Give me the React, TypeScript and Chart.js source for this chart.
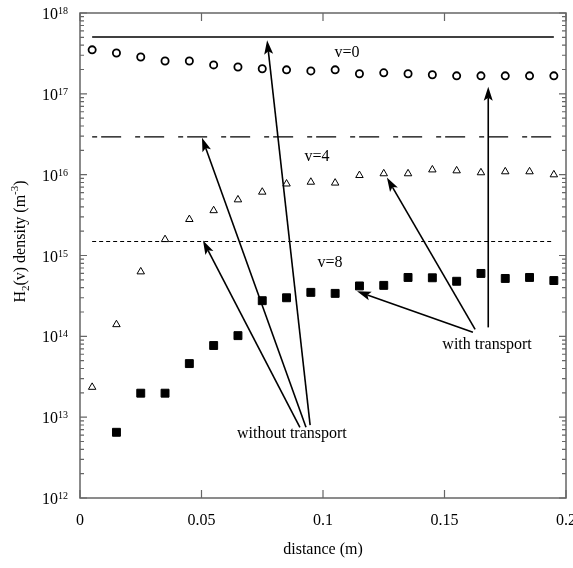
import React, { useEffect, useRef } from "react";
import { Chart, registerables } from "chart.js";

Chart.register(...registerables);

// ---- data ----
const distanceV0 = [0.005, 0.015, 0.025, 0.035, 0.045, 0.055, 0.065, 0.075, 0.085, 0.095, 0.105, 0.115, 0.125, 0.135, 0.145, 0.155, 0.165, 0.175, 0.185, 0.195];
const densityV0 = [3.5e17, 3.2e17, 2.86e17, 2.55e17, 2.55e17, 2.28e17, 2.15e17, 2.04e17, 1.98e17, 1.92e17, 1.98e17, 1.77e17, 1.82e17, 1.77e17, 1.72e17, 1.67e17, 1.67e17, 1.67e17, 1.67e17, 1.67e17];
const distanceV4 = [0.005, 0.015, 0.025, 0.035, 0.045, 0.055, 0.065, 0.075, 0.085, 0.095, 0.105, 0.115, 0.125, 0.135, 0.145, 0.155, 0.165, 0.175, 0.185, 0.195];
const densityV4 = [2.35e13, 1.4e14, 6.3e14, 1.58e15, 2.8e15, 3.6e15, 4.9e15, 6.1e15, 7.7e15, 8.1e15, 7.9e15, 9.8e15, 1.03e16, 1.03e16, 1.15e16, 1.12e16, 1.06e16, 1.09e16, 1.09e16, 1.0e16];
const distanceV8 = [0.015, 0.025, 0.035, 0.045, 0.055, 0.065, 0.075, 0.085, 0.095, 0.105, 0.115, 0.125, 0.135, 0.145, 0.155, 0.165, 0.175, 0.185, 0.195];
const densityV8 = [6.5e12, 1.98e13, 1.98e13, 4.6e13, 7.7e13, 1.02e14, 2.76e14, 3.0e14, 3.5e14, 3.4e14, 4.2e14, 4.27e14, 5.35e14, 5.3e14, 4.8e14, 6.0e14, 5.2e14, 5.35e14, 4.9e14];

// "without transport" levels (horizontal lines)
const levelX = [0.005, 0.195];
const levelV0 = 5.06e17;
const levelV4 = 2.94e16;
const levelV8 = 1.49e15;

const xTicks = [0, 0.05, 0.1, 0.15, 0.2];
const xTickLabels = ["0", "0.05", "0.1", "0.15", "0.2"];
const yDecades = [12, 13, 14, 15, 16, 17, 18];

// arrows: [fromX, fromY, toX, toY]
const arrows = [
  [0.0947, 7.96e12, 0.077, 4.6e17],
  [0.093, 7.5e12, 0.0502, 2.87e16],
  [0.0905, 7.5e12, 0.0506, 1.53e15],
  [0.168, 1.29e14, 0.168, 1.22e17],
  [0.1626, 1.22e14, 0.1263, 9.2e15],
  [0.1617, 1.12e14, 0.114, 3.6e14],
];

const noteTexts = ["v=0", "v=4", "v=8", "without transport", "with transport"];
const noteX = [0.1099, 0.0975, 0.1029, 0.0872, 0.1675];
const noteY = [3.2e17, 1.67e16, 8.2e14, 6.2e12, 7.9e13];

const FONT = "'Liberation Serif', 'Times New Roman', serif";

const decorPlugin = {
  id: "decor",
  afterDraw(chart: any) {
    const ctx = chart.ctx;
    const xs = chart.scales.x;
    const ys = chart.scales.y;
    const a = chart.chartArea;
    ctx.save();

    // frame
    ctx.strokeStyle = "#666";
    ctx.lineWidth = 1.5;
    ctx.strokeRect(a.left, a.top, a.right - a.left, a.bottom - a.top);

    // x ticks (inward, bottom and top)
    ctx.lineWidth = 1.2;
    xTicks.forEach((v) => {
      const px = xs.getPixelForValue(v);
      ctx.beginPath();
      ctx.moveTo(px, a.bottom);
      ctx.lineTo(px, a.bottom - 8);
      ctx.moveTo(px, a.top);
      ctx.lineTo(px, a.top + 8);
      ctx.stroke();
    });
    // y ticks (log, inward, left and right)
    yDecades.forEach((d, i) => {
      const py = ys.getPixelForValue(Math.pow(10, d));
      ctx.beginPath();
      ctx.moveTo(a.left, py);
      ctx.lineTo(a.left + 7, py);
      ctx.moveTo(a.right, py);
      ctx.lineTo(a.right - 7, py);
      ctx.stroke();
      if (i < yDecades.length - 1) {
        for (let k = 2; k <= 9; k++) {
          const pm = ys.getPixelForValue(k * Math.pow(10, d));
          ctx.beginPath();
          ctx.moveTo(a.left, pm);
          ctx.lineTo(a.left + 4, pm);
          ctx.moveTo(a.right, pm);
          ctx.lineTo(a.right - 4, pm);
          ctx.stroke();
        }
      }
    });

    ctx.fillStyle = "#000";
    // x tick labels
    ctx.font = `16px ${FONT}`;
    ctx.textAlign = "center";
    ctx.textBaseline = "middle";
    xTicks.forEach((v, i) => {
      ctx.fillText(xTickLabels[i], xs.getPixelForValue(v), a.bottom + 23);
    });
    // x title
    ctx.fillText("distance (m)", (a.left + a.right) / 2, a.bottom + 52);

    // y tick labels 10^n
    yDecades.forEach((d) => {
      const py = ys.getPixelForValue(Math.pow(10, d));
      const exp = String(d);
      ctx.font = `10px ${FONT}`;
      const ew = ctx.measureText(exp).width;
      const rightX = a.left - 12;
      ctx.textAlign = "left";
      ctx.textBaseline = "alphabetic";
      ctx.fillText(exp, rightX - ew, py + 1);
      ctx.font = `16px ${FONT}`;
      ctx.textAlign = "right";
      ctx.fillText("10", rightX - ew, py + 6);
    });

    // y title (rotated) H2(v) density (m-3)
    ctx.save();
    ctx.translate(25, (a.top + a.bottom) / 2 - 14);
    ctx.rotate(-Math.PI / 2);
    const parts: [string, number, number][] = [
      ["H", 16, 0],
      ["2", 11, 4],
      ["(v) density (m", 16, 0],
      ["-3", 11, -7],
      [")", 16, 0],
    ];
    let total = 0;
    parts.forEach(([t, s]) => {
      ctx.font = `${s}px ${FONT}`;
      total += ctx.measureText(t).width;
    });
    let cx = -total / 2;
    ctx.textAlign = "left";
    ctx.textBaseline = "alphabetic";
    parts.forEach(([t, s, dy]) => {
      ctx.font = `${s}px ${FONT}`;
      ctx.fillText(t, cx, dy);
      cx += ctx.measureText(t).width;
    });
    ctx.restore();

    // arrows
    ctx.strokeStyle = "#000";
    ctx.fillStyle = "#000";
    ctx.lineWidth = 1.6;
    arrows.forEach(([x0, y0, x1, y1]) => {
      const p0x = xs.getPixelForValue(x0);
      const p0y = ys.getPixelForValue(y0);
      const p1x = xs.getPixelForValue(x1);
      const p1y = ys.getPixelForValue(y1);
      const ang = Math.atan2(p1y - p0y, p1x - p0x);
      const L = 14;
      const W = 4.5;
      const bx = p1x - Math.cos(ang) * (L - 3);
      const by = p1y - Math.sin(ang) * (L - 3);
      ctx.beginPath();
      ctx.moveTo(p0x, p0y);
      ctx.lineTo(bx, by);
      ctx.stroke();
      const hx = p1x - Math.cos(ang) * L;
      const hy = p1y - Math.sin(ang) * L;
      const nx = -Math.sin(ang);
      const ny = Math.cos(ang);
      ctx.beginPath();
      ctx.moveTo(p1x, p1y);
      ctx.lineTo(hx + nx * W, hy + ny * W);
      ctx.lineTo(bx, by);
      ctx.lineTo(hx - nx * W, hy - ny * W);
      ctx.closePath();
      ctx.fill();
    });

    // notes
    ctx.font = `16px ${FONT}`;
    ctx.textAlign = "center";
    ctx.textBaseline = "middle";
    noteTexts.forEach((t, i) => {
      ctx.fillText(t, xs.getPixelForValue(noteX[i]), ys.getPixelForValue(noteY[i]));
    });

    ctx.restore();
  },
};

export default function App() {
  const ref = useRef<HTMLCanvasElement | null>(null);
  useEffect(() => {
    if (!ref.current) return;
    const pts = (xs: number[], ys: number[]) => xs.map((x, i) => ({ x, y: ys[i] }));
    const chart = new Chart(ref.current, {
      type: "scatter",
      data: {
        datasets: [
          {
            type: "line",
            data: pts(levelX, [levelV0, levelV0]),
            borderColor: "#000",
            borderWidth: 1.5,
            pointRadius: 0,
          },
          {
            type: "line",
            data: pts(levelX, [levelV4, levelV4]),
            borderColor: "#000",
            borderWidth: 1.2,
            borderDash: [5, 4, 20, 14],
            pointRadius: 0,
          },
          {
            type: "line",
            data: pts(levelX, [levelV8, levelV8]),
            borderColor: "#000",
            borderWidth: 1,
            borderDash: [4, 3],
            pointRadius: 0,
          },
          {
            data: pts(distanceV0, densityV0),
            pointStyle: "circle",
            pointRadius: 3.6,
            pointBorderWidth: 1.8,
            pointBorderColor: "#000",
            pointBackgroundColor: "#fff",
          },
          {
            data: pts(distanceV4, densityV4),
            pointStyle: "triangle",
            pointRadius: 4.3,
            pointBorderWidth: 1,
            pointBorderColor: "#000",
            pointBackgroundColor: "#fff",
          },
          {
            data: pts(distanceV8, densityV8),
            pointStyle: "rect",
            pointRadius: 5.6,
            pointBorderWidth: 1,
            pointBorderColor: "#000",
            pointBackgroundColor: "#000",
          },
        ],
      } as any,
      options: {
        animation: false,
        responsive: false,
        layout: { padding: { left: 80, top: 13, right: 7, bottom: 70 } },
        plugins: { legend: { display: false }, tooltip: { enabled: false } },
        scales: {
          x: { type: "linear", min: 0, max: 0.2, display: false },
          y: { type: "logarithmic", min: 1e12, max: 1e18, display: false },
        },
      },
      plugins: [decorPlugin],
    });
    return () => chart.destroy();
  }, []);
  return (
    <div style={{ position: "absolute", left: 0, top: 0, width: 573, height: 568, background: "#fff" }}>
      <canvas ref={ref} width={573} height={568} style={{ width: 573, height: 568, display: "block" }} />
    </div>
  );
}
